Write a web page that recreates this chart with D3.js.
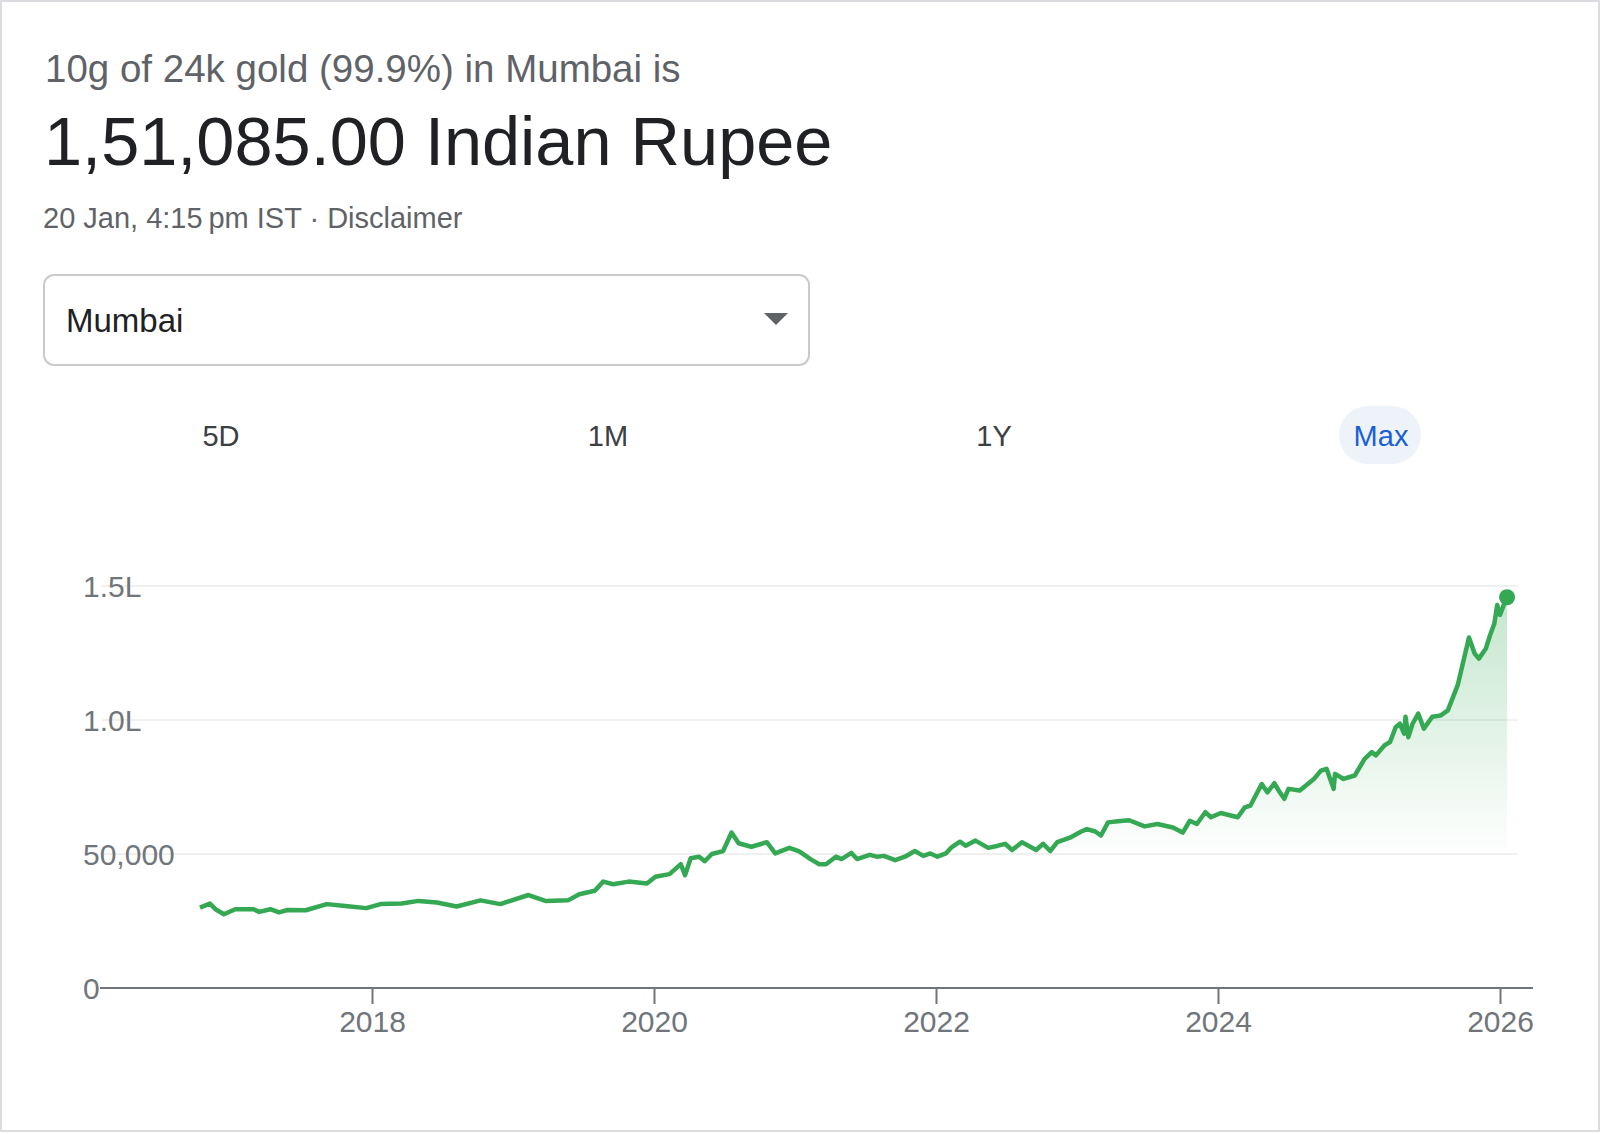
<!DOCTYPE html>
<html><head><meta charset="utf-8">
<script src="https://cdn.jsdelivr.net/npm/d3@7"></script>
<style>
body{margin:0;background:#fff;font-family:"Liberation Sans",Arial,sans-serif;}
svg{display:block}
</style></head>
<body>
<svg id="chart" width="1600" height="1134"></svg>
<script>
// decimal years and gold price (INR per 10g)
var years=[2016.78,2016.85,2016.89,2016.95,2017.03,2017.16,2017.20,2017.28,2017.34,2017.40,2017.53,2017.68,2017.81,2017.96,
2018.06,2018.21,2018.33,2018.46,2018.60,2018.77,2018.91,2019.11,2019.23,2019.39,2019.47,2019.58,2019.64,2019.71,2019.82,2019.95,
2020.01,2020.11,2020.19,2020.22,2020.26,2020.32,2020.36,2020.41,2020.49,2020.55,2020.60,2020.69,2020.80,2020.86,2020.96,
2021.03,2021.11,2021.17,2021.22,2021.29,2021.33,2021.40,2021.44,2021.53,2021.58,2021.63,2021.71,2021.78,2021.85,2021.91,2021.96,
2022.01,2022.07,2022.11,2022.17,2022.21,2022.28,2022.37,2022.44,2022.49,2022.54,2022.61,2022.71,2022.76,2022.81,2022.86,2022.95,
2023.03,2023.07,2023.13,2023.17,2023.22,2023.29,2023.37,2023.48,2023.57,2023.68,2023.75,2023.80,2023.85,2023.91,2023.95,
2024.02,2024.14,2024.19,2024.23,2024.31,2024.35,2024.40,2024.43,2024.47,2024.50,2024.58,2024.68,2024.73,2024.77,2024.82,2024.83,2024.89,2024.97,
2025.04,2025.09,2025.12,2025.18,2025.22,2025.26,2025.29,2025.32,2025.33,2025.35,2025.38,2025.42,2025.46,2025.52,2025.58,2025.63,2025.70,
2025.78,2025.82,2025.85,2025.90,2025.93,2025.96,2025.98,2026.00,2026.03,2026.05];
var prices=[30000,31500,29400,27500,29400,29400,28400,29400,28200,29100,29000,31300,30600,29800,
31300,31500,32500,31900,30400,32700,31300,34700,32500,32700,35000,36300,39700,38700,39700,39000,
41500,42500,46200,42100,48400,49000,47300,50000,51100,58000,54000,52700,54400,50200,52300,
51000,48100,46200,46200,49000,48100,50400,48100,49700,49000,49300,47700,49000,51100,49300,50200,
49000,50200,52500,54600,53100,55000,52300,53100,53800,51500,54400,51500,53800,51100,54400,56100,
58400,59300,58400,56900,61800,62200,62600,60300,61200,59900,58000,62400,61200,65600,63700,
65300,63700,67400,68100,76100,73000,76400,73700,70600,74300,73700,78000,81100,81800,74300,79900,78000,79300,
85500,88000,86800,90500,91800,97300,98600,94900,101200,93600,98600,102400,96800,101200,101700,103600,113000,
130800,124800,122900,126700,131700,136000,142900,139200,143500,145800];
var yTicks=[0,50000,100000,150000];
var yTickLabels=["0","50,000","1.0L","1.5L"];
var xTicks=[2018,2020,2022,2024,2026];
var tabs=["5D","1M","1Y","Max"];

var svg=d3.select("#chart");
var green="#34a853";
var font="'Liberation Sans',Arial,sans-serif";

//card frame
svg.append("rect").attr("x",1).attr("y",1).attr("width",1598).attr("height",1130)
  .attr("fill","#fff").attr("stroke","#dadce0").attr("stroke-width",2);

//header texts
svg.append("text").attr("x",45).attr("y",82).attr("font-size",38.5).attr("fill","#5f6368")
  .text("10g of 24k gold (99.9%) in Mumbai is");
svg.append("text").attr("x",44).attr("y",165).attr("font-size",68.5).attr("fill","#202124")
  .text("1,51,085.00 Indian Rupee");
svg.append("text").attr("x",43).attr("y",228).attr("font-size",29).attr("fill","#5f6368")
  .text("20 Jan, 4:15\u2009pm IST \u00b7 Disclaimer");

//dropdown
svg.append("rect").attr("x",44).attr("y",275).attr("width",765).attr("height",90).attr("rx",10)
  .attr("fill","#fff").attr("stroke","#c8cacd").attr("stroke-width",2);
svg.append("text").attr("x",66).attr("y",332).attr("font-size",33).attr("fill","#202124").text("Mumbai");
svg.append("path").attr("d","M764,313 L788,313 L776,325 Z").attr("fill","#5f6368");

//range tabs
var tabX=[221,608,994,1381];
svg.append("rect").attr("x",1339).attr("y",406).attr("width",82).attr("height",58).attr("rx",29).attr("fill","#eef3fa");
svg.selectAll(".tab").data(tabs).enter().append("text")
  .attr("x",(d,i)=>tabX[i]).attr("y",446).attr("text-anchor","middle").attr("font-size",29)
  .attr("fill",d=>d=="Max"?"#1a5fd6":"#3c4043").text(d=>d);

//scales
var x=d3.scaleLinear().domain([2018,2026]).range([372,1500]);
var y=d3.scaleLinear().domain([0,150000]).range([988,586]);

//grid
svg.selectAll(".grid").data(yTicks.slice(1)).enter().append("line")
  .attr("x1",102).attr("x2",1518).attr("y1",d=>y(d)).attr("y2",d=>y(d))
  .attr("stroke","#f0f0f0").attr("stroke-width",2);
svg.selectAll(".ylab").data(yTicks).enter().append("text")
  .attr("x",83).attr("y",d=>y(d)+11).attr("font-size",30).attr("fill","#70757a")
  .text((d,i)=>yTickLabels[i]);

//x axis
var xAxis=d3.axisBottom(x).tickValues(xTicks).tickFormat(d3.format("d")).tickSize(16).tickPadding(7);
var gx=svg.append("g").attr("transform","translate(0,"+y(0)+")").call(xAxis);
gx.select(".domain").remove();
gx.selectAll(".tick line").attr("stroke","#70757a").attr("stroke-width",2);
gx.selectAll(".tick text").attr("font-size",30).attr("fill","#70757a").attr("font-family",font);
svg.append("line").attr("x1",100).attr("x2",1533).attr("y1",y(0)).attr("y2",y(0)).attr("stroke","#70757a").attr("stroke-width",2);

//area gradient
var grad=svg.append("defs").append("linearGradient").attr("id","fade")
  .attr("gradientUnits","userSpaceOnUse").attr("x1",0).attr("x2",0).attr("y1",y(150000)).attr("y2",y(48000));
grad.append("stop").attr("offset","0%").attr("stop-color",green).attr("stop-opacity",0.3);
grad.append("stop").attr("offset","100%").attr("stop-color",green).attr("stop-opacity",0);

var pts=years.map((d,i)=>[d,prices[i]]);
var area=d3.area().x(d=>x(d[0])).y0(y(48000)).y1(d=>y(d[1]));
svg.append("path").datum(pts).attr("d",area).attr("fill","url(#fade)");
var line=d3.line().x(d=>x(d[0])).y(d=>y(d[1]));
svg.append("path").datum(pts).attr("d",line).attr("fill","none").attr("stroke",green)
  .attr("stroke-width",4.5).attr("stroke-linejoin","round");
var last=pts[pts.length-1];
svg.append("circle").attr("cx",x(last[0])).attr("cy",y(last[1])).attr("r",8).attr("fill",green);
</script>
</body></html>
